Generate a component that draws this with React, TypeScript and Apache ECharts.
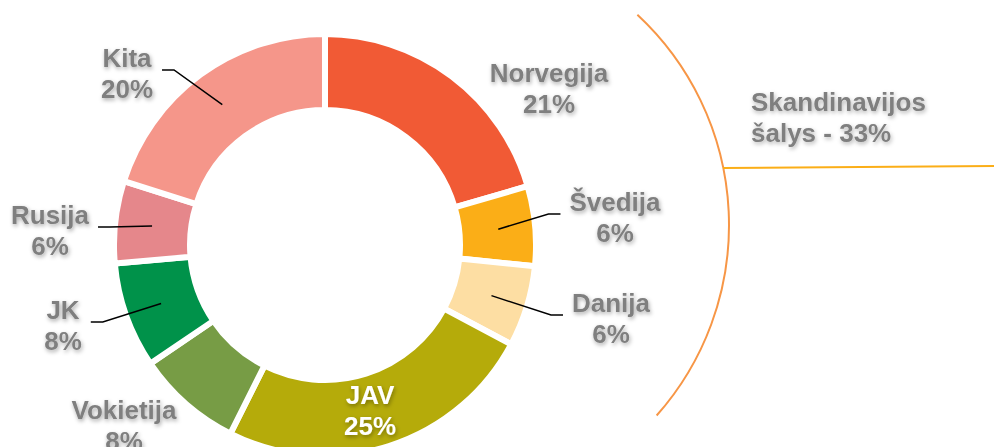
import React, { useEffect, useRef } from 'react';
import * as echarts from 'echarts';

// ---- Data ----
const categories = ['Norvegija', 'Švedija', 'Danija', 'JAV', 'Vokietija', 'JK', 'Rusija', 'Kita'];
const shares = [20.5, 6.1, 6.2, 24.6, 8.1, 8.1, 6.3, 20.1];
const sliceColors = ['#F15A35', '#FBAE17', '#FDDEA3', '#B5AB0A', '#779C45', '#00924A', '#E5878B', '#F5968A'];
const scandinavian = ['Norvegija', 'Švedija', 'Danija'];
const groupName = 'Skandinavijos\nšalys';
const noLeaderLine = ['Norvegija', 'Vokietija'];
const insideLabel = ['JAV'];

// ---- Layout (label anchor positions, px) ----
const LABEL_POS: Record<string, [number, number]> = {
  Norvegija: [549, 88],
  'Švedija': [615, 217],
  Danija: [611, 318],
  JAV: [370, 410],
  Vokietija: [124, 425],
  JK: [63, 325],
  Rusija: [50, 230],
  Kita: [127, 73],
};
const CENTER: [number, number] = [325, 245];
const FONT = '"Liberation Sans", Arial, sans-serif';
const GRAY = '#7F7F7F';

export default function App() {
  const ref = useRef<HTMLDivElement>(null);
  useEffect(() => {
    document.body.style.margin = '0';
    if (!ref.current) return;
    const chart = echarts.init(ref.current, null, { renderer: 'svg' });

    const groupShare = Math.round(
      categories.reduce((s, c, i) => (scandinavian.includes(c) ? s + shares[i] : s), 0));

    const fmt = (p: any) => `${p.name}\n${Math.round(p.value)}%`;

    const labelText = {
      fontFamily: FONT,
      fontWeight: 'bold' as const,
      fontSize: 26,
      lineHeight: 31,
      textShadowColor: 'rgba(0,0,0,0.35)',
      textShadowBlur: 4,
      textShadowOffsetX: 1,
      textShadowOffsetY: 2,
    };

    const mainData = categories.map((c, i) => ({
      name: c,
      value: shares[i],
      itemStyle: { color: sliceColors[i] },
      label: { show: insideLabel.includes(c) },
    }));

    const overlayData = categories.map((c, i) => ({
      name: c,
      value: shares[i],
      label: { show: !insideLabel.includes(c) },
      labelLine: { show: !insideLabel.includes(c) && !noLeaderLine.includes(c) },
    }));

    const placeLabel = (params: any, seriesCats: string[]) => {
      const name = seriesCats[params.dataIndex];
      const pos = LABEL_POS[name];
      if (!pos) return {};
      const w = params.labelRect.width;
      const res: any = { x: pos[0], y: pos[1], align: 'center', verticalAlign: 'middle' };
      if (!noLeaderLine.includes(name) && !insideLabel.includes(name) && params.labelLinePoints) {
        const start = params.labelLinePoints[0];
        const right = pos[0] > CENTER[0];
        const endX = right ? pos[0] - w / 2 - 9 : pos[0] + w / 2 + 9;
        const y = pos[1] - 3;
        const elbowX = right ? endX - 12 : endX + 12;
        res.labelLinePoints = [start, [elbowX, y], [endX, y]];
      }
      return res;
    };

    chart.setOption({
      animation: false,
      series: [
        {
          type: 'pie',
          center: CENTER,
          radius: [135, 211],
          startAngle: 90,
          clockwise: true,
          avoidLabelOverlap: false,
          silent: true,
          itemStyle: { borderColor: '#ffffff', borderWidth: 6 },
          label: {
            show: false,
            position: 'inside',
            formatter: fmt,
            color: '#ffffff',
            ...labelText,
          },
          labelLine: { show: false },
          labelLayout: (params: any) => placeLabel(params, categories),
          data: mainData,
        },
        {
          type: 'pie',
          center: CENTER,
          radius: [0, 174],
          startAngle: 90,
          clockwise: true,
          avoidLabelOverlap: false,
          silent: true,
          z: 3,
          itemStyle: { color: 'rgba(0,0,0,0)', borderWidth: 0 },
          label: {
            show: true,
            position: 'outside',
            formatter: fmt,
            color: GRAY,
            ...labelText,
          },
          labelLine: {
            show: true,
            length: 20,
            length2: 10,
            lineStyle: { color: '#000000', width: 1.5 },
          },
          labelLayout: (params: any) => placeLabel(params, categories),
          data: overlayData,
        },
      ],
      graphic: [
        {
          type: 'arc',
          shape: { cx: 442, cy: 225, r: 287, startAngle: -0.822, endAngle: 0.726, clockwise: true },
          style: { stroke: '#F79646', lineWidth: 2, fill: null },
          silent: true,
        },
        {
          type: 'line',
          shape: { x1: 723, y1: 168, x2: 994, y2: 166 },
          style: { stroke: '#FBAE17', lineWidth: 2 },
          silent: true,
        },
        {
          type: 'text',
          left: 751,
          top: 86,
          style: {
            text: `${groupName} - ${groupShare}%`,
            font: `bold 26px ${FONT}`,
            fill: GRAY,
            lineHeight: 31,
            textShadowColor: 'rgba(0,0,0,0.3)',
            textShadowBlur: 4,
            textShadowOffsetX: 1,
            textShadowOffsetY: 2,
          },
          silent: true,
        },
      ],
    });
    return () => chart.dispose();
  }, []);
  return <div ref={ref} style={{ width: 994, height: 447 }} />;
}
